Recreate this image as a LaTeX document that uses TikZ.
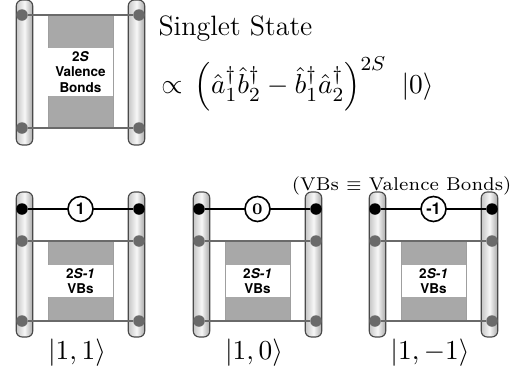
\documentclass[tikz,border=0pt]{standalone}
\usepackage{fontspec}
\setsansfont{TeX Gyre Heros}
\usepackage{amsmath}
\usepackage{amssymb}
\usepackage{tikz}
\usetikzlibrary{positioning, calc}
\definecolor{railedge}{HTML}{4A4A4A}
\definecolor{vbgray}{HTML}{A8A8A8}
\definecolor{bondgray}{HTML}{6A6A6A}

\begin{document}
\begin{tikzpicture}[x=0.4pt, y=-0.4pt,
    rail/.style={rectangle, rounded corners=2.4pt, draw=railedge, line width=0.45pt,
                 left color=gray!45, right color=gray!68, middle color=gray!6,
                 minimum width=6.6pt, minimum height=58pt, inner sep=0pt},
    vbbox/.style={rectangle, fill=vbgray, draw=gray!75, line width=0.2pt,
                  minimum width=26pt, minimum height=#1, inner sep=0pt},
    vblabel/.style={rectangle, fill=white, minimum width=25.6pt, minimum height=#1, inner sep=0pt,
                    align=center, font=\sffamily\bfseries\fontsize{5.4}{6.1}\selectfont},
    gdot/.style={circle, fill=bondgray, minimum size=4.6pt, inner sep=0pt},
    bdot/.style={circle, fill=black, minimum size=4.6pt, inner sep=0pt},
    gbond/.style={draw=bondgray, line width=0.7pt},
    bbond/.style={draw=black, line width=0.65pt},
    mcirc/.style={circle, draw=black, fill=white, line width=0.65pt, minimum size=10pt,
                  inner sep=0pt, font=\sffamily\bfseries\fontsize{6.5}{7}\selectfont},
    ket/.style={font=\fontsize{10.8}{13}\selectfont},
    txt/.style={inner sep=0pt, font=\fontsize{11.2}{13}\selectfont}
]
\useasboundingbox (0,0) rectangle (514,381);

% singlet: 2S valence bonds
\node[rail] (topL) at (24.5,72.5) {};
\node[rail] (topR) at (136.5,72.5) {};
\node[vbbox=45.2pt] (topbox) at (80.5,71.5) {};
\node[vblabel=19.2pt] (toptext) at (80.5,72) {2\textit{S}\\Valence\\Bonds};
\node[gdot] (topa) at (22,15) {};
\node[gdot] (topb) at (139,15) {};
\node[gdot] (topc) at (22,128) {};
\node[gdot] (topd) at (139,128) {};
\draw[gbond] (topa) -- (topb);
\draw[gbond] (topc) -- (topd);

\node[txt, anchor=west] (title) at (158,29) {Singlet State};
\node[txt, anchor=west, font=\fontsize{10.8}{13}\selectfont] (formula) at (161,84)
    {$\propto\, \Big(\hat a_1^\dagger \hat b_2^\dagger - \hat b_1^\dagger \hat a_2^\dagger\Big)^{2S}\hspace{6pt} |0\rangle$};
\node[inner sep=0pt, anchor=east, font=\fontsize{7.4}{9}\selectfont] (note) at (512,186)
    {(VBs $\equiv$ Valence Bonds)};

% triplet states
\foreach \i/\dx/\m/\k in {1/0/\textsf{\textbf{1}}/{1}, 2/177/\rmfamily 0/{0}, 3/353/\textsf{\textbf{-1}}/{-1}} {
  \node[rail] (L\i) at (24.5+\dx,264.5) {};
  \node[rail] (R\i) at (136.5+\dx,264.5) {};
  \node[vbbox=32pt] (box\i) at (80.5+\dx,281) {};
  \node[vblabel=12.8pt] (text\i) at (80.5+\dx,281) {2\textit{S-1}\\VBs};
  \node[bdot] (a\i) at (22+\dx,209) {};
  \node[bdot] (b\i) at (139+\dx,209) {};
  \node[gdot] (c\i) at (22+\dx,241) {};
  \node[gdot] (d\i) at (139+\dx,241) {};
  \node[gdot] (e\i) at (22+\dx,321) {};
  \node[gdot] (f\i) at (139+\dx,321) {};
  \draw[gbond] (c\i) -- (d\i);
  \draw[gbond] (e\i) -- (f\i);
  \draw[bbond] (a\i) -- node[mcirc] (m\i) {\m} (b\i);
  \node[ket] (ket\i) at (77+\dx,353) {$|1,\k\rangle$};
}
\end{tikzpicture}
\end{document}
